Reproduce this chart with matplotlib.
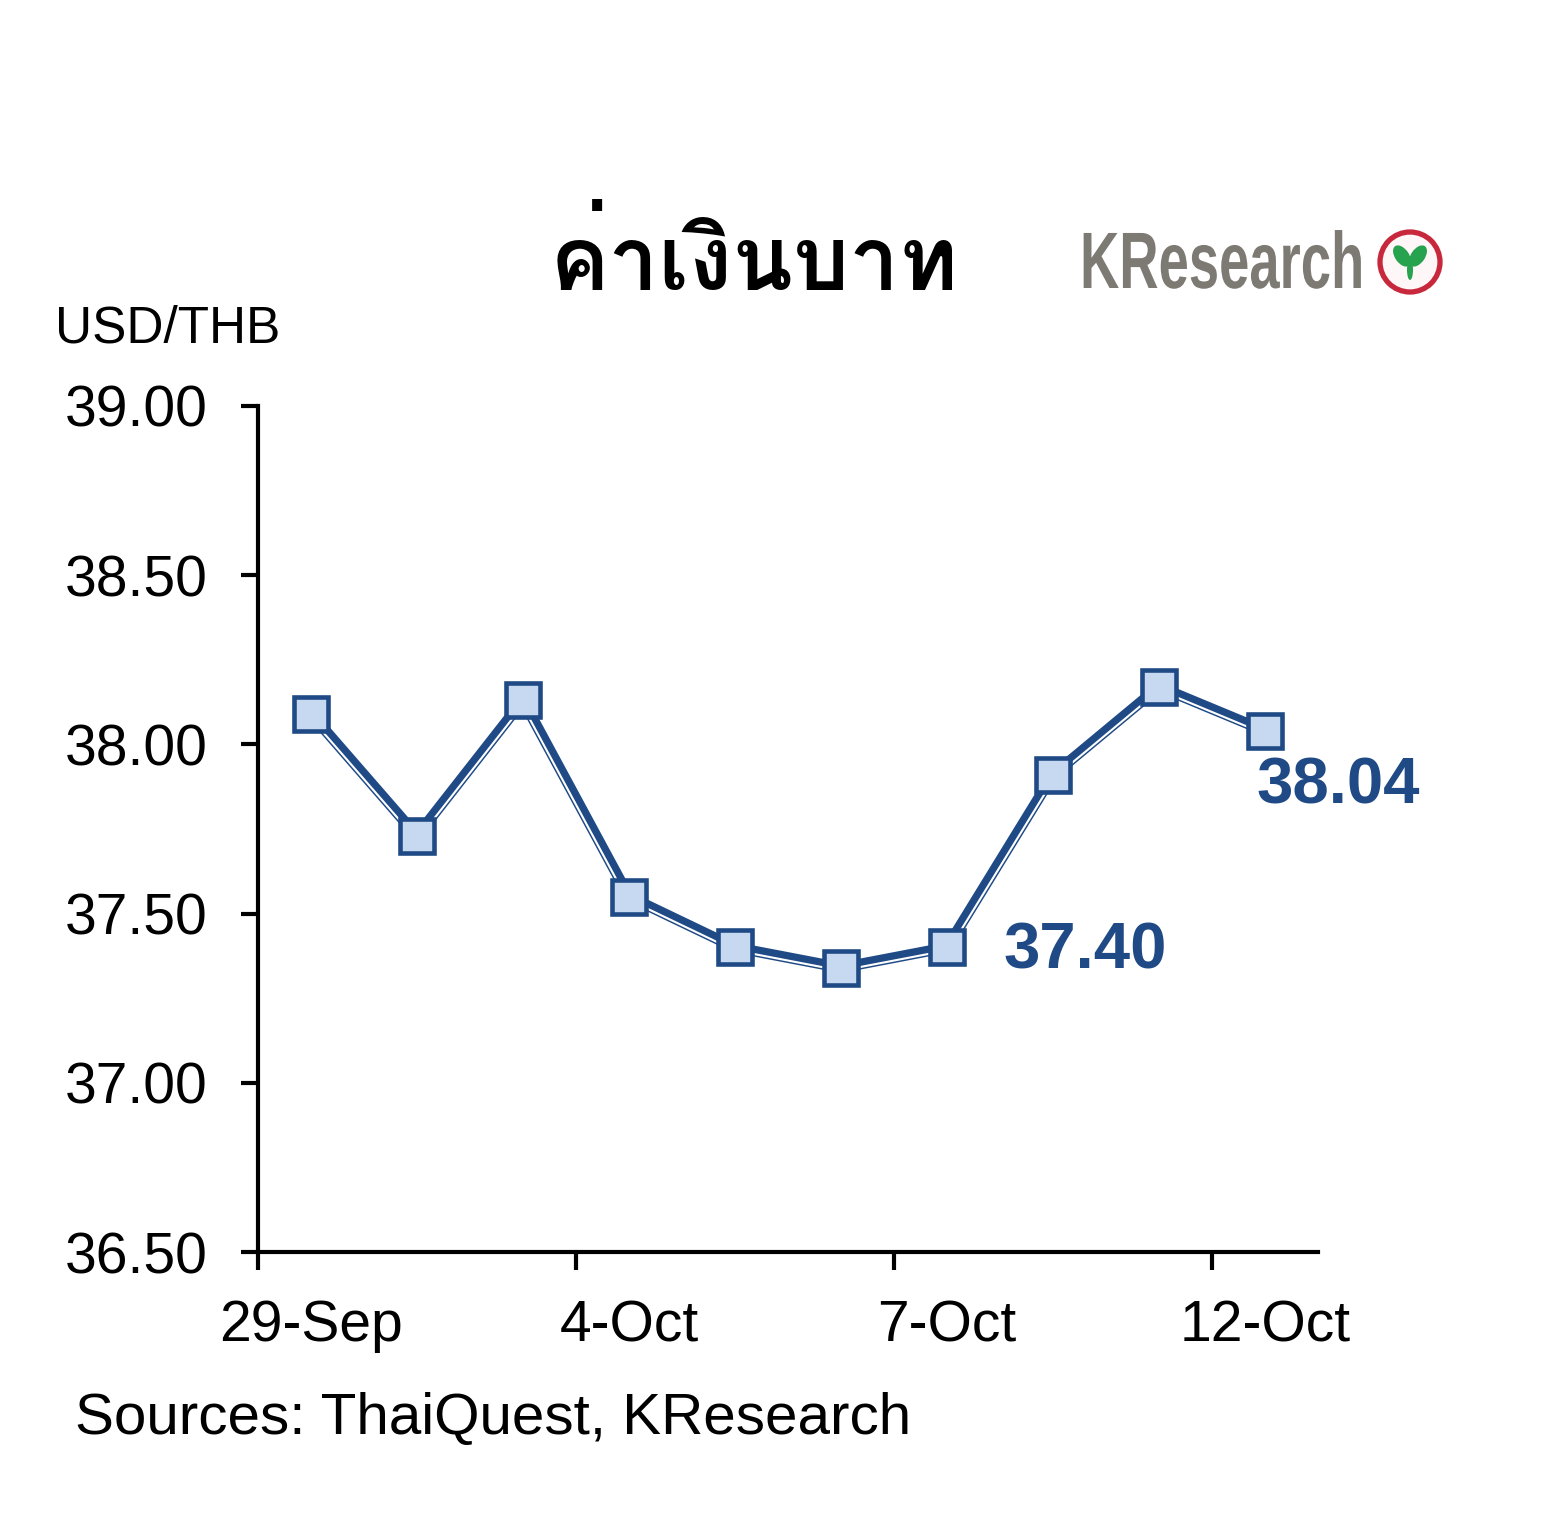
import numpy as np
import matplotlib
matplotlib.use('Agg')
import matplotlib.pyplot as plt
import matplotlib.patheffects as pe
from matplotlib import font_manager
from matplotlib.ft2font import FT2Font
from matplotlib.patches import Circle, Ellipse, PathPatch
from matplotlib.textpath import TextPath
from matplotlib.font_manager import FontProperties
from matplotlib.transforms import Affine2D

dates = ['29-Sep', '30-Sep', '3-Oct', '4-Oct', '5-Oct', '6-Oct', '7-Oct', '10-Oct', '11-Oct', '12-Oct']
rates = [38.09, 37.73, 38.13, 37.55, 37.40, 37.34, 37.40, 37.91, 38.17, 38.04]
shown_labels = ['29-Sep', '4-Oct', '7-Oct', '12-Oct']
y_ticks = [36.50, 37.00, 37.50, 38.00, 38.50, 39.00]
labelled = [6, 9]

NAVY = '#1F4A85'
FILL = '#C6D9F0'
W, H = 1566, 1533


def find_thai_font():
    best = None
    for f in font_manager.fontManager.ttflist:
        try:
            ft = FT2Font(f.fname)
            if ft.get_char_index(0x0E04) and ft.get_char_index(0x0E34):
                if f.weight in ('bold', 700) or 'Bold' in f.fname:
                    return f.name
                best = best or f.name
        except Exception:
            continue
    return best


thai = find_thai_font()
title_family = [thai, 'DejaVu Sans'] if thai else ['DejaVu Sans']

plt.rcParams['font.family'] = ['Liberation Sans', 'DejaVu Sans']

fig = plt.figure(figsize=(W / 100, H / 100), dpi=100)
ax = fig.add_axes([258 / W, 1 - 1252 / H, 1060 / W, 846 / H])

x = list(range(len(dates)))
ax.set_xlim(-0.5, len(dates) - 0.5)
ax.set_ylim(36.5, 39.0)

# compound line: thick navy band with a thin white line along its lower edge
ax.plot(x, rates, color=NAVY, lw=7.8, solid_joinstyle='miter', zorder=3)
disp = ax.transData.transform(np.column_stack([x, rates]))
for i in range(len(x) - 1):
    d = disp[i + 1] - disp[i]
    d = d / np.hypot(*d)
    perp = np.array([d[1], -d[0]])  # points downward for left-to-right travel
    off = perp * 2.9 * 72 / fig.dpi
    ax.plot(x[i:i + 2], rates[i:i + 2], color='white', lw=1.5, zorder=3.5,
            solid_capstyle='butt',
            path_effects=[pe.Stroke(offset=(off[0], off[1]))])
ax.plot(x, rates, ls='none', marker='s', ms=24, mfc=FILL, mec=NAVY, mew=3.3, zorder=4)

ax.set_yticks(y_ticks)
ax.set_yticklabels([f'{v:.2f}' for v in y_ticks])

idx = [dates.index(d) for d in shown_labels]
ax.set_xticks([i - 0.5 for i in idx])
ax.set_xticklabels([])
ax.set_xticks(idx, minor=True)
ax.set_xticklabels(shown_labels, minor=True)
ax.tick_params(axis='x', which='minor', length=0, pad=34, labelsize=41)
ax.tick_params(axis='x', which='major', length=13, width=3, direction='out')
ax.tick_params(axis='y', length=12, width=3, direction='out', pad=24, labelsize=41)

for s in ['top', 'right']:
    ax.spines[s].set_visible(False)
for s in ['left', 'bottom']:
    ax.spines[s].set_linewidth(3)

ax.annotate(f'{rates[labelled[0]]:.2f}', (labelled[0], rates[labelled[0]]), xytext=(41, -3),
            textcoords='offset points', ha='left', va='center', fontsize=47,
            fontweight='bold', color=NAVY)
ax.annotate(f'{rates[labelled[1]]:.2f}', (labelled[1], rates[labelled[1]]), xytext=(-6, -40),
            textcoords='offset points', ha='left', va='center', fontsize=47,
            fontweight='bold', color=NAVY)

fig.text(55 / W, 1 - 329 / H, 'USD/THB', fontsize=37, ha='left', va='center')
fig.text(75 / W, 1 - 1419 / H, 'Sources: ThaiQuest, KResearch', fontsize=42, ha='left', va='center')
fig.text(754 / W, 1 - 262 / H, 'ค่าเงินบาท', fontsize=64, fontweight='bold',
         family=title_family, ha='center', va='center')

# KResearch logo (condensed grey wordmark + red ring with green leaf)
tp = TextPath((0, 0), 'KResearch', size=80, prop=FontProperties(family='Liberation Sans', weight='bold'))
logo_tr = Affine2D().scale(0.68, 1.0).translate(1080, H - 288)
fig.patches.append(PathPatch(tp, transform=logo_tr, facecolor='#7D7A73', edgecolor='none', figure=fig))
cx, cy = 1410, H - 262
fig.patches.append(Circle((cx, cy), 30, transform=Affine2D(), facecolor='#FFF6F8',
                          edgecolor='#C8283C', lw=3.8, figure=fig))
for ang, dx in [(35, -8), (-35, 8)]:
    fig.patches.append(Ellipse((cx + dx, cy + 6), 14, 24, angle=ang, transform=Affine2D(),
                               facecolor='#27A24F', edgecolor='none', figure=fig))
fig.patches.append(Ellipse((cx, cy - 8), 6, 20, transform=Affine2D(),
                           facecolor='#27A24F', edgecolor='none', figure=fig))

fig.savefig('out.png', dpi=100)
